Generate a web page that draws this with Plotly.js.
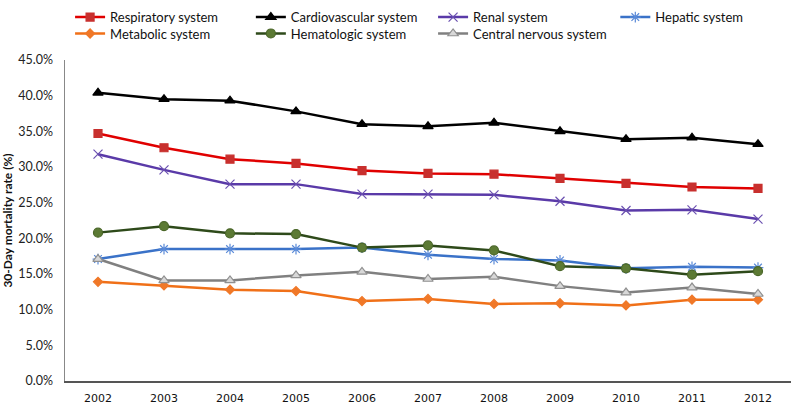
<!DOCTYPE html>
<html>
<head>
<title>30-Day mortality</title>
<script src="https://cdn.plot.ly/plotly-3.0.1.min.js"></script>
<style>
	body { margin: 0; background-color: white; }
	#chart { width: 798px; height: 414px; }
</style>
</head>
<body>
<div id="chart"></div>
<script>
	var years = ['2002', '2003', '2004', '2005', '2006', '2007', '2008', '2009', '2010', '2011', '2012'];

	var respiratory = [34.7, 32.7, 31.1, 30.5, 29.5, 29.1, 29.0, 28.4, 27.7, 27.2, 27.0];
	var cardiovascular = [40.4, 39.5, 39.3, 37.8, 36.0, 35.7, 36.2, 35.0, 33.9, 34.1, 33.2];
	var renal = [31.8, 29.6, 27.6, 27.6, 26.2, 26.2, 26.1, 25.2, 23.9, 24.0, 22.7];
	var hepatic = [17.1, 18.5, 18.5, 18.5, 18.7, 17.7, 17.1, 16.9, 15.8, 16.0, 15.9];
	var metabolic = [13.9, 13.4, 12.8, 12.6, 11.2, 11.5, 10.8, 10.9, 10.6, 11.4, 11.4];
	var hematologic = [20.8, 21.7, 20.7, 20.6, 18.7, 19.0, 18.3, 16.1, 15.8, 14.9, 15.4];
	var cns = [17.1, 14.1, 14.1, 14.8, 15.3, 14.3, 14.6, 13.3, 12.4, 13.1, 12.2];

	var yTicks = [0, 5, 10, 15, 20, 25, 30, 35, 40, 45];

	// one small legend per series so the two legend rows sit like the original grid
	var legendPos = {
		legend:  [0.007, 0.955],
		legend2: [0.256, 0.955],
		legend3: [0.507, 0.955],
		legend4: [0.758, 0.955],
		legend5: [0.007, 0.912],
		legend6: [0.256, 0.912],
		legend7: [0.507, 0.912]
	};

	function series(name, y, color, symbol, mcolor, mline, size, leg) {
		return {
			x: years,
			y: y,
			type: 'scatter',
			mode: 'lines+markers',
			name: name,
			legend: leg,
			line: {color: color, width: 2.5},
			marker: {symbol: symbol, size: size, color: mcolor, line: {color: mline, width: 1.2}}
		};
	}

	var data = [
		series('Respiratory system', respiratory, '#e00000', 'square', '#c8302e', '#c8302e', 8, 'legend'),
		series('Cardiovascular system', cardiovascular, '#000000', 'triangle-up', '#000000', '#000000', 9, 'legend2'),
		series('Renal system', renal, '#5a3aa8', 'x-thin-open', '#6a50b0', '#6a50b0', 9, 'legend3'),
		series('Hepatic system', hepatic, '#3a72c8', 'asterisk-open', '#5a8ad8', '#5a8ad8', 9, 'legend4'),
		series('Metabolic system', metabolic, '#f07018', 'diamond', '#f07828', '#f07828', 7, 'legend5'),
		series('Hematologic system', hematologic, '#2e4a1a', 'circle', '#5c7a34', '#4a6628', 9, 'legend6'),
		series('Central nervous system', cns, '#808080', 'triangle-up', '#d8d8d8', '#909090', 9, 'legend7')
	];

	var layout = {
		width: 798,
		height: 414,
		margin: {l: 65, r: 7, t: 0, b: 33},
		paper_bgcolor: 'white',
		plot_bgcolor: 'white',
		font: {family: 'Lato, "Open Sans", sans-serif', color: '#222', size: 12},
		showlegend: true,
		xaxis: {
			type: 'category',
			range: [-0.5, 10.5],
			showgrid: false,
			zeroline: false,
			showline: true,
			linecolor: '#555',
			linewidth: 1.5,
			ticks: '',
			ticklabelstandoff: 6,
			tickfont: {family: '"DejaVu Sans", sans-serif', size: 11, color: '#111'},
			automargin: false
		},
		yaxis: {
			domain: [0, 0.8425],
			range: [0, 45],
			tickvals: yTicks,
			ticktext: yTicks.map(function (v) { return v.toFixed(1) + '%'; }),
			showgrid: false,
			zeroline: false,
			showline: true,
			linecolor: '#888',
			linewidth: 1.5,
			ticks: '',
			ticklabelstandoff: 8,
			tickfont: {size: 12.5, color: '#222'},
			title: {text: '<b>30-Day mortality rate (%)</b>', font: {size: 12, color: '#111'}, standoff: 4},
			automargin: false
		}
	};

	Object.keys(legendPos).forEach(function (key) {
		layout[key] = {
			orientation: 'h',
			x: legendPos[key][0],
			y: legendPos[key][1],
			xanchor: 'left',
			yanchor: 'middle',
			itemwidth: 30,
			font: {size: 13, color: '#111'},
			bgcolor: 'rgba(0,0,0,0)',
			borderwidth: 0
		};
	});

	Plotly.newPlot('chart', data, layout, {displayModeBar: false, staticPlot: true});
</script>
</body>
</html>
